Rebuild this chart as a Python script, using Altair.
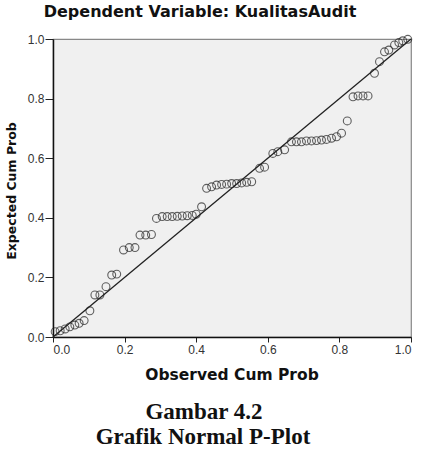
import altair as alt
import pandas as pd

# Observed vs expected cumulative probabilities
observed = [0.006, 0.020, 0.034, 0.047, 0.061, 0.073, 0.087, 0.103, 0.117, 0.131,
            0.148, 0.164, 0.178, 0.197, 0.213, 0.229, 0.243, 0.259, 0.275, 0.289,
            0.305, 0.319, 0.333, 0.347, 0.361, 0.375, 0.389, 0.400, 0.415, 0.429,
            0.443, 0.457, 0.471, 0.485, 0.499, 0.513, 0.527, 0.541, 0.555, 0.577,
            0.591, 0.614, 0.628, 0.647, 0.666, 0.680, 0.694, 0.708, 0.722, 0.736,
            0.750, 0.764, 0.778, 0.792, 0.806, 0.822, 0.838, 0.852, 0.866, 0.880,
            0.898, 0.912, 0.926, 0.938, 0.954, 0.966, 0.977, 0.991]
expected = [0.018, 0.021, 0.027, 0.034, 0.040, 0.046, 0.055, 0.088, 0.141, 0.141,
            0.169, 0.208, 0.211, 0.292, 0.300, 0.300, 0.342, 0.342, 0.344, 0.398,
            0.404, 0.404, 0.404, 0.405, 0.406, 0.407, 0.408, 0.412, 0.437, 0.499,
            0.504, 0.510, 0.512, 0.513, 0.515, 0.515, 0.517, 0.519, 0.521, 0.566,
            0.570, 0.616, 0.622, 0.628, 0.655, 0.655, 0.655, 0.658, 0.658, 0.659,
            0.661, 0.663, 0.667, 0.672, 0.684, 0.725, 0.806, 0.809, 0.809, 0.809,
            0.885, 0.924, 0.957, 0.963, 0.980, 0.988, 0.994, 0.999]
ref_line = [0.0, 1.0]
ticks = [0.0, 0.2, 0.4, 0.6, 0.8, 1.0]

title_text = "Dependent Variable: KualitasAudit"
x_title = "Observed Cum Prob"
y_title = "Expected Cum Prob"
caption_1 = "Gambar 4.2"
caption_2 = "Grafik Normal P-Plot"

pts = pd.DataFrame({"obs": observed, "exp": expected})
diag = pd.DataFrame({"obs": ref_line, "exp": ref_line})

xscale = alt.Scale(domain=[0, 1], nice=False, zero=False)
yscale = alt.Scale(domain=[0, 1], nice=False, zero=False)

xaxis = alt.Axis(values=ticks, format=".1f", title=None, grid=False,
                 labelFontSize=12, labelColor="#333", labelFont="Liberation Sans",
                 tickSize=5, tickColor="#222", domainColor="#111", domainWidth=1.5,
                 labelPadding=2)
yaxis = alt.Axis(values=ticks, format=".1f", title=None, grid=False,
                 labelFontSize=12, labelColor="#333", labelFont="Liberation Sans",
                 tickSize=8, tickColor="#222", domainColor="#111", domainWidth=1.5,
                 labelPadding=1)

points = alt.Chart(pts).mark_point(shape="circle", filled=False, size=62,
                                   stroke="#222", strokeWidth=1.1).encode(
    x=alt.X("obs:Q", scale=xscale, axis=xaxis),
    y=alt.Y("exp:Q", scale=yscale, axis=yaxis),
)

line = alt.Chart(diag).mark_line(color="#222", strokeWidth=1.3).encode(
    x=alt.X("obs:Q", scale=xscale),
    y=alt.Y("exp:Q", scale=yscale),
)

def label(text, x, y, size, font, weight="normal", angle=0):
    return alt.Chart(pd.DataFrame({"t": [text]})).mark_text(
        fontSize=size, font=font, fontWeight=weight, angle=angle,
        align="center", baseline="middle", color="#111").encode(
        x=alt.value(x), y=alt.value(y), text="t:N")

texts = [
    label(title_text, 147, -27, 16, "DejaVu Sans", "bold"),
    label(y_title, -41, 152, 12.5, "DejaVu Sans", "bold", 270),
    label(x_title, 179, 336, 15.5, "DejaVu Sans", "bold"),
    label(caption_1, 151, 373, 23, "Liberation Serif", "bold"),
    label(caption_2, 150, 398, 23, "Liberation Serif", "bold"),
]

chart = alt.layer(line, points, *texts).properties(
    width=358, height=298,
    autosize=alt.AutoSizeParams(type="none"),
    padding={"left": 53, "top": 39, "right": 10, "bottom": 118},
    background="white",
).configure_view(fill="#f0f0f0", stroke="#888", strokeWidth=1.2)

chart.save("out.html", embed_options={"renderer": "svg", "actions": False})
